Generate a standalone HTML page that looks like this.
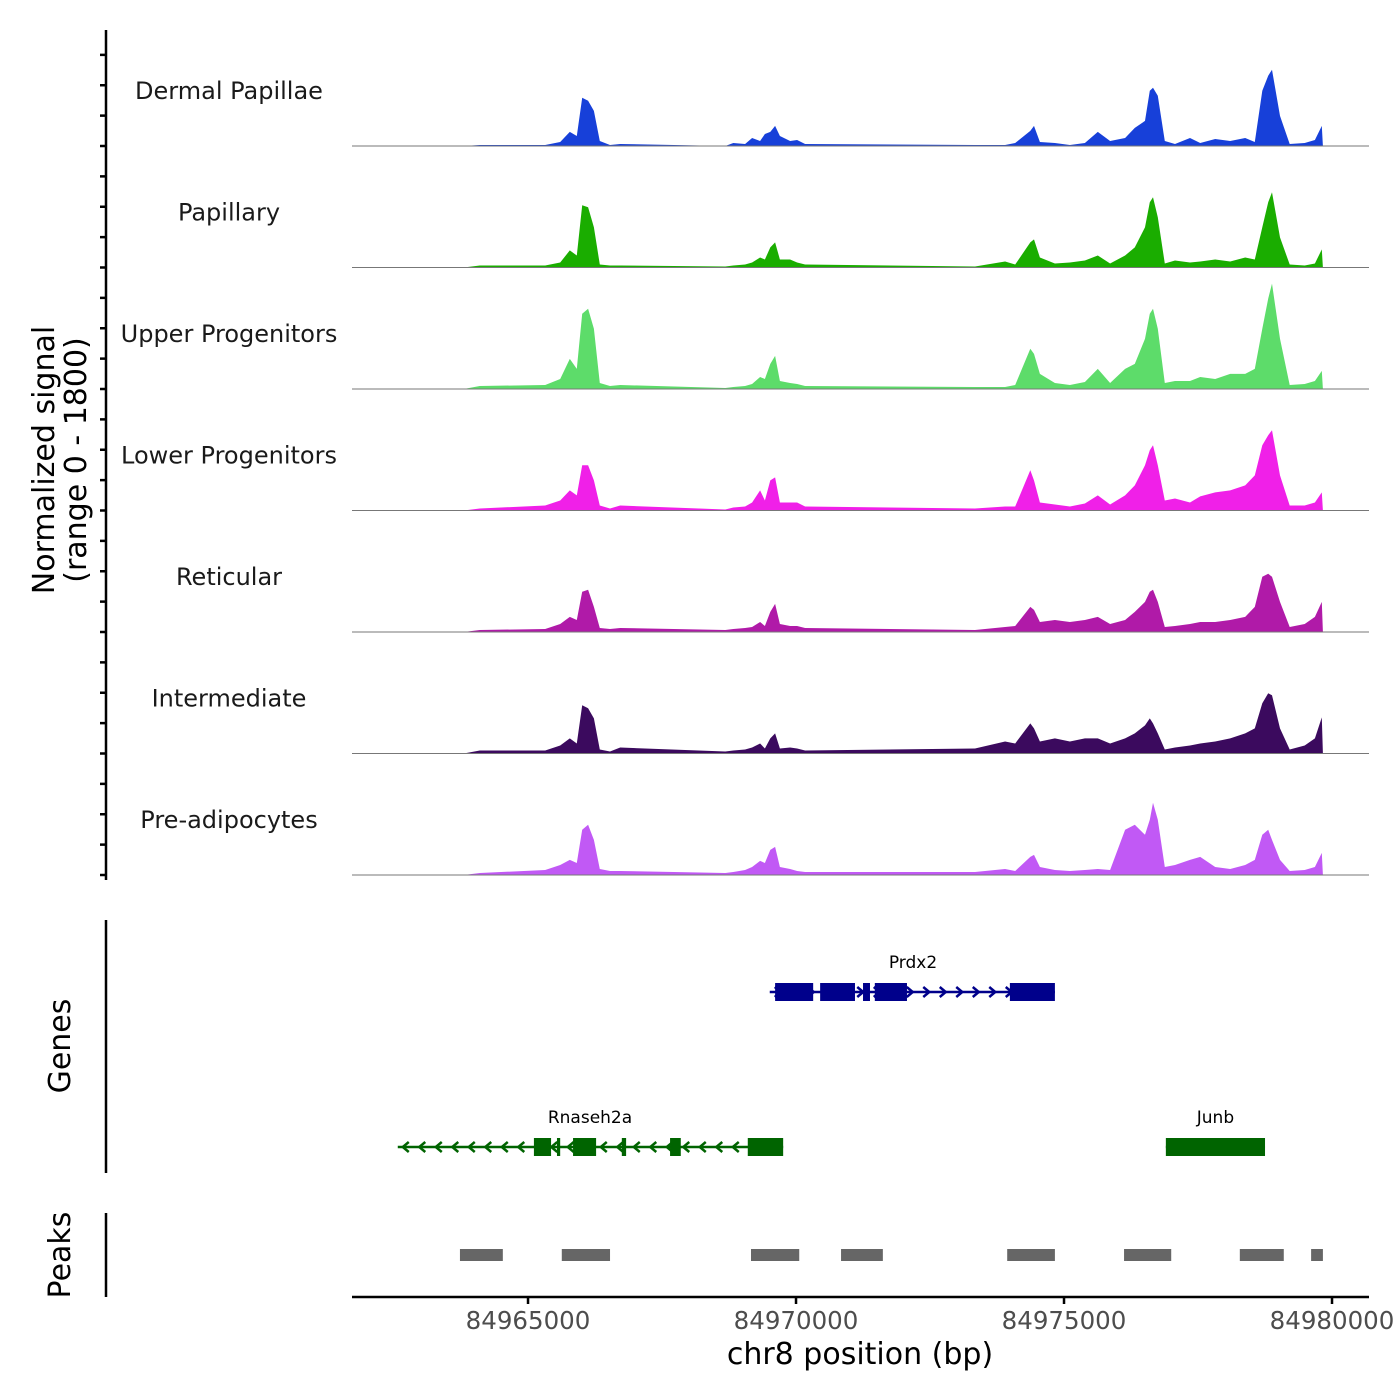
<!DOCTYPE html>
<html><head><meta charset="utf-8"><style>
html,body{margin:0;padding:0;background:#fff;}
svg{display:block;font-family:"DejaVu Sans","Liberation Sans",sans-serif;}
</style></head><body>
<svg id="chart" width="1400" height="1400" viewBox="0 0 1400 1400" xmlns="http://www.w3.org/2000/svg">
<g id="tracks"></g>
<g id="genes"></g>
<g id="peaks"></g>
<g id="axes"></g>
</svg>
<script>
// ---- data ----
const positionsKb = [84964.10,84965.32,84965.60,84965.78,84965.91,84966.01,84966.12,84966.23,84966.34,84966.53,84966.72,
84968.68,84968.83,84969.05,84969.18,84969.33,84969.42,84969.52,84969.61,84969.70,84969.89,84970.02,84970.17,
84973.34,84973.90,84974.09,84974.37,84974.44,84974.55,84974.83,84975.11,84975.39,84975.63,84975.86,84976.14,84976.32,84976.51,84976.60,84976.66,84976.75,84976.88,84977.07,84977.35,84977.54,84977.82,84978.10,84978.38,84978.56,84978.70,84978.81,84978.88,84979.03,84979.21,84979.49,84979.68,84979.81];
const regionStartKb = 84961.716, regionEndKb = 84980.69, dataEndKb = 84979.83;
const cellTypes = ["Dermal Papillae","Papillary","Upper Progenitors","Lower Progenitors","Reticular","Intermediate","Pre-adipocytes"];
const trackColors = ["#1740d9","#1aad00","#5ddc6a","#f020e8","#b01aa8","#3b0a5e","#c159f5"];
// signal in relative units (0-121 corresponds to 0-1800)
const sigDermal = [1,1,4,14,10,48,45,35,5,1,2, 0,3,2,8,5,12,14,20,10,5,6,2, 1,1,3,15,20,4,3,1,3,14,5,8,18,25,55,58,50,5,2,8,3,7,5,8,4,55,70,76,30,2,3,6,20];
const sigPapillary = [2,2,5,17,12,62,60,40,3,2,2, 1,2,3,5,10,8,20,25,8,8,5,3, 1,6,3,25,28,10,4,5,7,12,4,12,20,40,65,70,50,4,7,5,6,8,6,10,8,40,65,75,30,3,2,4,18];
const sigUpper = [3,4,10,30,20,75,80,60,6,3,4, 1,2,3,5,12,10,25,33,8,6,5,3, 2,2,4,40,35,15,6,4,7,20,6,20,25,50,75,80,60,6,8,8,12,10,15,15,20,60,90,105,50,4,5,8,18];
const sigLower = [2,5,10,20,15,45,45,30,5,2,5, 1,3,4,8,20,10,30,33,8,8,8,4, 2,4,4,40,30,8,6,4,7,15,6,15,25,45,60,65,45,10,12,8,14,18,20,25,35,65,75,80,35,5,5,8,18];
const sigReticular = [2,3,8,15,12,40,42,25,4,3,4, 2,3,4,5,10,6,20,28,8,6,6,4, 2,5,6,25,22,10,12,10,12,15,8,12,20,30,40,42,30,5,6,8,10,10,12,15,25,55,58,55,30,5,8,15,30];
const sigIntermediate = [3,3,8,15,10,48,45,35,4,2,6, 2,3,4,6,10,5,15,20,5,6,5,3, 5,12,10,30,25,12,15,12,15,15,10,15,20,28,35,30,20,4,6,8,10,12,15,20,25,50,60,58,25,4,8,15,36];
const sigPreadipo = [2,5,10,15,12,45,50,35,6,4,4, 2,3,5,8,14,12,25,28,8,6,4,3, 3,6,4,18,20,8,5,4,5,6,5,45,50,40,55,72,55,8,10,15,18,8,6,10,15,40,45,35,15,4,5,8,22];
const signals = [sigDermal,sigPapillary,sigUpper,sigLower,sigReticular,sigIntermediate,sigPreadipo];
const xTicksBp = [84965000,84970000,84975000,84980000];
const peakStartsKb = [84963.73,84965.63,84969.16,84970.84,84973.94,84976.12,84978.28,84979.61];
const peakEndsKb =   [84964.53,84966.53,84970.06,84971.62,84974.83,84977.00,84979.10,84979.83];
const geneNames = ["Prdx2","Rnaseh2a","Junb"];
const geneStartsKb = [84969.51,84962.57,84976.90];
const geneEndsKb = [84974.83,84969.76,84978.75];
const geneStrands = ["+","-","+"];
const geneRows = [0,1,1];
const geneColors = ["#00008b","#006400","#006400"];
const exonStartsKb = [[84969.61,84970.45,84971.25,84971.47,84973.99],[84965.11,84965.54,84965.84,84966.75,84967.65,84969.10],[84976.90]];
const exonEndsKb = [[84970.32,84971.10,84971.38,84972.07,84974.83],[84965.43,84965.60,84966.27,84966.83,84967.85,84969.76],[84978.75]];

// ---- scales ----
const NS="http://www.w3.org/2000/svg";
const X0=352, X1=1369;
const xs = kb => X0 + (kb-regionStartKb)/(regionEndKb-regionStartKb)*(X1-X0);
const panelH = 121.5, firstBase = 146;
const ys = (i,v) => (firstBase + i*panelH) - v/121*panelH;
function el(tag, attrs, parent){const e=document.createElementNS(NS,tag);for(const k in attrs)e.setAttribute(k,attrs[k]);parent.appendChild(e);return e;}

const tracks=document.getElementById('tracks');
signals.forEach((s,i)=>{
  const base=firstBase+i*panelH;
  let d=`M${xs(regionStartKb)},${base} L${xs(positionsKb[0]-0.3)},${base}`;
  positionsKb.forEach((p,j)=>{d+=` L${xs(p).toFixed(1)},${ys(i,s[j]).toFixed(1)}`;});
  d+=` L${xs(dataEndKb)},${base} Z`;
  const a=el('path',{d:d,fill:trackColors[i]},tracks);
  
  
  const bl=el('line',{x1:X0,x2:X1,y1:base,y2:base,stroke:'#777','stroke-width':1},tracks);
  
  
  const t=el('text',{x:229,y:base-54,'font-size':24,'text-anchor':'middle',fill:'#1a1a1a','dominant-baseline':'middle'},tracks);
  t.textContent=cellTypes[i];
  
  
});

// genes
const genes=document.getElementById('genes');
const rowY=[992,1147];
geneNames.forEach((g,i)=>{
  const y=rowY[geneRows[i]], c=geneColors[i];
  const x1=xs(geneStartsKb[i]), x2=xs(geneEndsKb[i]);
  const grp=el('g',{},genes);
  
  
  el('line',{x1:x1,x2:x2,y1:y,y2:y,stroke:c,'stroke-width':2.5},grp);
  if(x2-x1>150){
    for(let x=x1+8;x<x2-6;x+=16.5){
      const dir=geneStrands[i]==='+'?1:-1;
      el('polyline',{points:`${x-3*dir},${y-5} ${x+3*dir},${y} ${x-3*dir},${y+5}`,fill:'none',stroke:c,'stroke-width':2.5},grp);
    }
  }
  exonStartsKb[i].forEach((s,j)=>{
    const a=xs(s), b=xs(exonEndsKb[i][j]);
    el('rect',{x:a,y:y-9,width:Math.max(b-a,3),height:18,fill:c},grp);
  });
  const t=el('text',{x:(x1+x2)/2,y:y-24,'font-size':17,'text-anchor':'middle',fill:'#000'},grp);
  if(g==='Prdx2'){t.setAttribute('x',913);}
  if(g==='Rnaseh2a'){t.setAttribute('x',590);}
  t.textContent=g;
});

// peaks
const peaks=document.getElementById('peaks');
peakStartsKb.forEach((s,i)=>{
  const r=el('rect',{x:xs(s),y:1249,width:xs(peakEndsKb[i])-xs(s),height:12,fill:'#666'},peaks);
  
  
});

// axes
const axes=document.getElementById('axes');
el('line',{x1:106,x2:106,y1:30,y2:880,stroke:'#000','stroke-width':2.5},axes);
for(let k=1;k<=28;k++){const y=24.5+k*30.375;el('line',{x1:100,x2:106,y1:y,y2:y,stroke:'#000','stroke-width':2.5},axes);}
el('line',{x1:106,x2:106,y1:920,y2:1173,stroke:'#000','stroke-width':2.5},axes);
el('line',{x1:106,x2:106,y1:1213,y2:1297,stroke:'#000','stroke-width':2.5},axes);
el('line',{x1:352,x2:1369,y1:1297,y2:1297,stroke:'#000','stroke-width':2.5},axes);
const yt=el('text',{transform:'translate(54,460) rotate(-90)','font-size':30,'text-anchor':'middle',fill:'#000'},axes);
yt.textContent='Normalized signal';


const yt2=el('text',{transform:'translate(86,460) rotate(-90)','font-size':30,'text-anchor':'middle',fill:'#000'},axes);
yt2.textContent='(range 0 - 1800)';


const gt=el('text',{transform:'translate(70,1046) rotate(-90)','font-size':30,'text-anchor':'middle',fill:'#000'},axes);
gt.textContent='Genes';


const pt=el('text',{transform:'translate(70,1255) rotate(-90)','font-size':30,'text-anchor':'middle',fill:'#000'},axes);
pt.textContent='Peaks';


xTicksBp.forEach(b=>{
  const x=xs(b/1000);
  el('line',{x1:x,x2:x,y1:1297,y2:1304,stroke:'#000','stroke-width':2.5},axes);
  const t=el('text',{x:x,y:1329,'font-size':24.5,'text-anchor':'middle',fill:'#4d4d4d'},axes);
  t.textContent=String(b);
  
  
});
const xt=el('text',{x:860,y:1364,'font-size':30,'text-anchor':'middle',fill:'#000'},axes);
xt.textContent='chr8 position (bp)';


</script>
</body></html>
